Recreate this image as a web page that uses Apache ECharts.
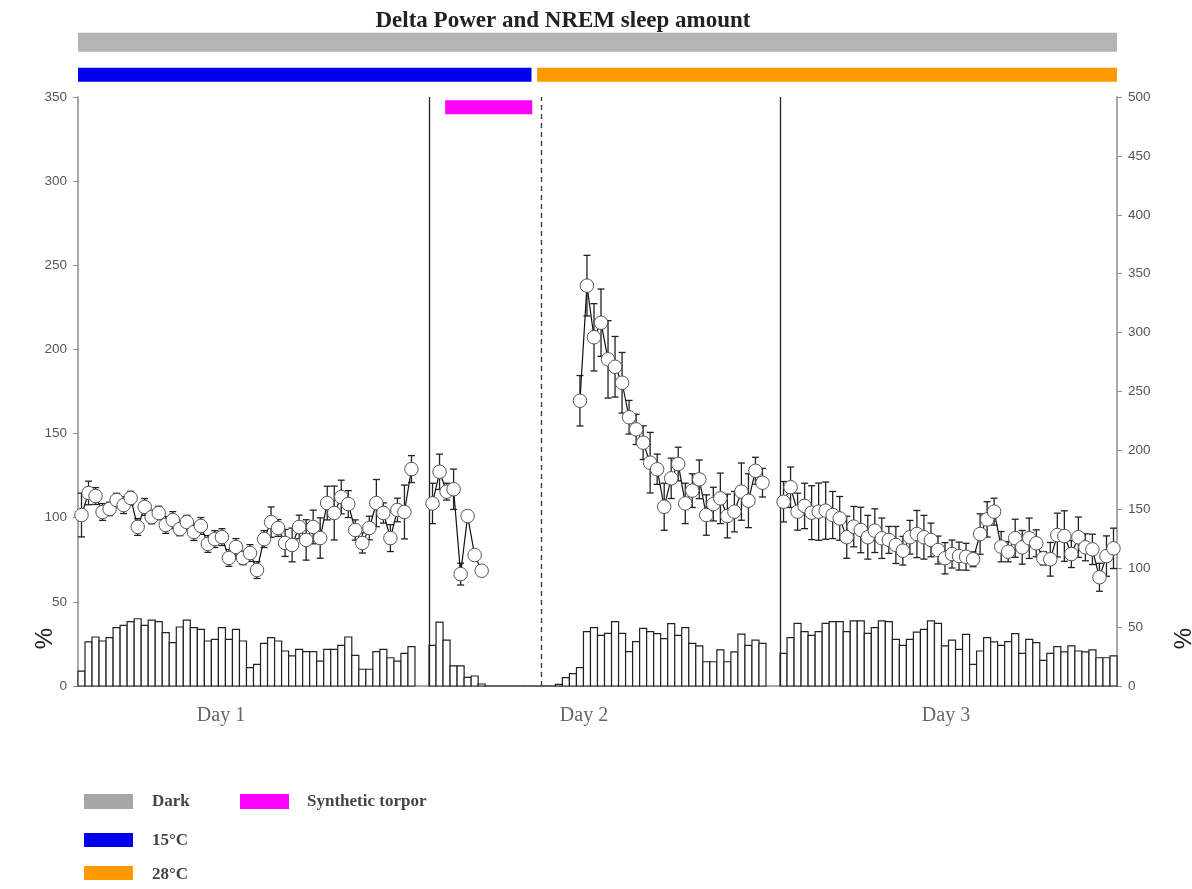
<!DOCTYPE html>
<html>
<head>
<meta charset="utf-8">
<title>Delta Power and NREM sleep amount</title>
<script src="https://cdn.jsdelivr.net/npm/echarts@6/dist/echarts.min.js"></script>
<style>
  html, body { margin: 0; padding: 0; background: #fff; }
  #chart { width: 1192px; height: 889px; }
</style>
</head>
<body>
<div id="chart"></div>
<script>
// Time axis: 30-min slots. Day 1 = slots 0-47, Day 2 = 50-97, Day 3 = 100-147.
const SLOT_COUNT = 148;
const day1Start = 0, day2Start = 50, recoveryStart = 71, day3Start = 100;

// NREM sleep amount (% of bin), right axis
const nremDay1 = [12.7, 37.4, 41.6, 38.2, 41, 49.5, 51.5, 54.6, 57.1, 51.5, 56, 54.6,
  45.3, 36.8, 50.1, 56, 49.5, 48.1, 38.2, 39.6, 49.5, 39.6, 48.1, 38.2,
  15.6, 18.4, 36.2, 41, 38.2, 29.7, 25.5, 31.1, 29.1, 29.1, 21.2, 31.1,
  31.1, 34.5, 41.6, 26, 14.2, 14.2, 29.1, 31.1, 24, 21.2, 27.7, 33.4];
const nremDay2 = [34.5, 54.3, 39, 17, 17, 7.4, 8.5, 1.7,
  0, 0, 0, 0, 0, 0, 0, 0, 0, 0,
  1.4, 7.1, 10.5, 15.6, 46.1, 49.5, 43, 44.7, 54.6, 44.7, 29.1, 37.6,
  49, 46.1, 44.4, 40.2, 52.9, 43, 49.5, 36.2, 34, 20.6, 20.6, 30.6,
  20.6, 28.9, 44.1, 34.5, 39, 36.2];
const nremDay3 = [27.7, 41, 53.2, 46.1, 43, 46.1, 53.2, 54.6, 54.6, 46.1, 55.2, 55.2,
  44.7, 49.5, 55.2, 54.6, 39.6, 34.5, 39.6, 45.8, 48.1, 55.2, 53.2, 34,
  39, 31.1, 43.9, 18.4, 29.7, 41, 37.4, 34.5, 37.6, 44.4, 27.7, 39.6,
  36.8, 21.8, 27.7, 33.4, 28.9, 34, 29.7, 28.9, 30.6, 24, 24, 25.5];

// Delta power (% of baseline), left axis, mean and SEM
const deltaDay1 = [101.6, 114.7, 112.9, 103.4, 105.2, 110.5, 107.5, 111.7, 94.5, 106.4, 100.4, 102.8,
  95.7, 98.6, 93.3, 97.4, 91.5, 95.1, 84.4, 87.3, 88.5, 76.1, 82.6, 76.1,
  79, 68.9, 87.3, 97.4, 93.9, 85, 83.8, 94.5, 86.8, 94.5, 87.9, 108.7,
  102.8, 112.3, 108.1, 92.7, 85, 93.9, 108.7, 102.8, 87.9, 104.6, 103.4, 128.9];
const deltaDay1Err = [13, 7, 5, 5, 4, 4, 5, 4, 5, 5, 4, 4,
  5, 5, 4, 4, 5, 5, 5, 5, 5, 5, 5, 4,
  5, 5, 5, 9, 5, 8, 10, 7, 12, 10, 12, 10,
  16, 10, 8, 6, 6, 7, 14, 6, 8, 7, 16, 8];
const deltaTorpor = [108.5, 127.3, 115.5, 116.9, 66.5, 101, 77.8, 68.5];
const deltaTorporErr = [12, 10.5, 5, 12, 6.5, 2, 2, 2];
const deltaRecovery = [169.5, 237.9, 207.2, 215.9, 194.1, 189.7, 180.2, 159.7, 152.5,
  144.6, 132.7, 128.8, 106.5, 123.4, 131.9, 108.5, 116.1, 122.8,
  101.6, 108.1, 111.5, 101, 103.6, 115.5, 110.1, 127.9, 120.8];
const deltaRecoveryErr = [15, 18, 20, 20, 23, 18, 18, 10, 9,
  10, 18, 9, 14, 12, 10, 12, 10, 11.5,
  12, 10, 15, 13, 12, 17, 16, 8, 8.5];
const deltaDay3 = [109.5, 118.1, 103.6, 107, 103, 103.6, 104.2, 101.6, 99.6, 88.4, 94.7, 92.7,
  88.4, 92.3, 87.8, 86.8, 83.8, 80.4, 88.4, 90.3, 88.4, 86.8, 80.8, 75.9,
  78.4, 77.2, 76.8, 75.3, 90.3, 99, 103.6, 82.8, 79.8, 87.8, 82.4, 87.8,
  84.8, 75.9, 75.3, 89.7, 89.1, 78.4, 88.4, 82.4, 81.2, 64.6, 77.2, 81.8];
const deltaDay3Err = [12, 12, 11, 13.5, 16, 17, 17, 14, 13, 12.5, 12, 13.5,
  13, 13, 12, 8, 11, 8.5, 10, 14, 13, 10, 8.3, 9.3,
  8.3, 8.3, 8, 4.4, 12, 10.5, 8, 9, 6, 11.3, 10, 12,
  8, 4, 10, 13, 15, 8, 12, 8, 9, 8.3, 12, 12];

// Condition bands above the plot (in slot units)
const bandNames = ['Dark', '15°C', '28°C', 'Synthetic torpor'];
const bandStart = [0, 0, 65.4, 52.3];
const bandEnd = [148, 64.6, 148, 64.7];
const bandRow = [0, 1, 1, 2];
const bandColors = { 'Dark': '#b4b4b4', '15°C': '#0000ee', '28°C': '#ff9900', 'Synthetic torpor': '#ff00ff' };

// Axis ticks
const leftTicks = { min: 0, max: 350, interval: 50 };
const rightTicks = { min: 0, max: 500, interval: 50 };
const dayLabels = ['Day 1', 'Day 2', 'Day 3'];
const boundaries = [50, 100];
const torporEnd = 66;

function toPoints(values, start) {
  return values.map((v, i) => [start + i + 0.5, v]);
}
function toErr(values, errs, start) {
  return values.map((v, i) => [start + i + 0.5, v, errs[i]]);
}
function toBars(values, start) {
  return values.map((v, i) => [start + i, v]);
}

const barData = [].concat(toBars(nremDay1, day1Start), toBars(nremDay2, day2Start), toBars(nremDay3, day3Start));
const errData = [].concat(
  toErr(deltaDay1, deltaDay1Err, day1Start),
  toErr(deltaTorpor, deltaTorporErr, day2Start),
  toErr(deltaRecovery, deltaRecoveryErr, recoveryStart),
  toErr(deltaDay3, deltaDay3Err, day3Start));
const bandData = bandNames.map((n, i) => [bandStart[i], bandEnd[i], bandRow[i], i]);

const serif = '"Liberation Serif", "DejaVu Serif", serif';
const sans = '"Liberation Sans", Arial, sans-serif';

function deltaLine(values, start, extra) {
  return Object.assign({
    type: 'line',
    xAxisIndex: 0, yAxisIndex: 0,
    data: toPoints(values, start),
    symbol: 'circle', symbolSize: 13.5,
    itemStyle: { color: '#fff', borderColor: '#555', borderWidth: 1 },
    lineStyle: { color: '#111', width: 1.2 },
    z: 5, silent: true, animation: false
  }, extra || {});
}

const chart = echarts.init(document.getElementById('chart'), null, { renderer: 'canvas' });
chart.setOption({
  animation: false,
  backgroundColor: '#fff',
  title: {
    text: 'Delta Power and NREM sleep amount',
    left: 558, top: 5, textAlign: 'center',
    textStyle: { fontFamily: serif, fontWeight: 'bold', fontSize: 23, color: '#222' }
  },
  grid: [
    { left: 78, right: 75, top: 97, bottom: 203 },
    { left: 78, right: 75, top: 26, height: 97.5 }
  ],
  xAxis: [
    { type: 'value', gridIndex: 0, min: 0, max: SLOT_COUNT,
      axisLine: { show: true, onZero: false, lineStyle: { color: '#8c8c8c', width: 1.5 } },
      axisTick: { show: false }, axisLabel: { show: false }, splitLine: { show: false } },
    { type: 'value', gridIndex: 1, min: 0, max: SLOT_COUNT, show: false }
  ],
  yAxis: [
    { type: 'value', gridIndex: 0, position: 'left',
      min: leftTicks.min, max: leftTicks.max, interval: leftTicks.interval,
      axisLine: { show: true, lineStyle: { color: '#8c8c8c', width: 1.5 } },
      axisTick: { show: true, length: 5, lineStyle: { color: '#8c8c8c' } },
      axisLabel: { color: '#555', fontSize: 13.5, fontFamily: sans, margin: 11 },
      splitLine: { show: false } },
    { type: 'value', gridIndex: 0, position: 'right',
      min: rightTicks.min, max: rightTicks.max, interval: rightTicks.interval,
      axisLine: { show: true, lineStyle: { color: '#8c8c8c', width: 1.5 } },
      axisTick: { show: true, length: 5, lineStyle: { color: '#8c8c8c' } },
      axisLabel: { color: '#555', fontSize: 13.5, fontFamily: sans, margin: 11 },
      splitLine: { show: false } },
    { type: 'category', gridIndex: 1, data: ['row0', 'row1', 'row2'], inverse: true, show: false }
  ],
  series: [
    // NREM amount bars
    {
      type: 'custom', xAxisIndex: 0, yAxisIndex: 1, data: barData, z: 2, silent: true,
      renderItem: function (params, api) {
        const p0 = api.coord([api.value(0), api.value(1)]);
        const p1 = api.coord([api.value(0) + 1, 0]);
        return {
          type: 'rect',
          shape: { x: p0[0], y: p0[1], width: p1[0] - p0[0], height: p1[1] - p0[1] },
          style: { fill: '#fff', stroke: '#222', lineWidth: 1.2 }
        };
      }
    },
    // SEM error bars
    {
      type: 'custom', xAxisIndex: 0, yAxisIndex: 0, data: errData, z: 3, silent: true,
      renderItem: function (params, api) {
        const x = api.value(0), y = api.value(1), e = api.value(2);
        const top = api.coord([x, y + e]);
        const bot = api.coord([x, y - e]);
        const cap = 3.5;
        const st = { stroke: '#222', lineWidth: 1.3 };
        return {
          type: 'group',
          children: [
            { type: 'line', shape: { x1: top[0], y1: top[1], x2: bot[0], y2: bot[1] }, style: st },
            { type: 'line', shape: { x1: top[0] - cap, y1: top[1], x2: top[0] + cap, y2: top[1] }, style: st },
            { type: 'line', shape: { x1: bot[0] - cap, y1: bot[1], x2: bot[0] + cap, y2: bot[1] }, style: st }
          ]
        };
      }
    },
    deltaLine(deltaDay1, day1Start, {
      markLine: {
        silent: true, symbol: 'none', label: { show: false },
        lineStyle: { color: '#222', width: 1.3, type: 'solid' },
        data: [
          { xAxis: boundaries[0] },
          { xAxis: boundaries[1] },
          { xAxis: torporEnd, lineStyle: { type: [5, 4], color: '#333', width: 1.3 } }
        ]
      }
    }),
    deltaLine(deltaTorpor, day2Start),
    deltaLine(deltaRecovery, recoveryStart),
    deltaLine(deltaDay3, day3Start),
    // Condition bands
    {
      type: 'custom', xAxisIndex: 1, yAxisIndex: 2, data: bandData, silent: true,
      renderItem: function (params, api) {
        const s = api.coord([api.value(0), api.value(2)]);
        const e = api.coord([api.value(1), api.value(2)]);
        const row = api.value(2);
        const h = row === 0 ? 19 : 14;
        return {
          type: 'rect',
          shape: { x: s[0], y: s[1] - h / 2, width: e[0] - s[0], height: h },
          style: { fill: bandColors[bandNames[api.value(3)]] }
        };
      }
    }
  ],
  graphic: [
    { type: 'text', left: 33, top: 628, rotation: Math.PI / 2,
      style: { text: '%', font: '24px ' + sans, fill: '#222' } },
    { type: 'text', left: 1172, top: 628, rotation: Math.PI / 2,
      style: { text: '%', font: '24px ' + sans, fill: '#222' } },
    { type: 'text', x: 221, y: 716, style: { text: dayLabels[0], font: '20px ' + serif, fill: '#666', align: 'center', verticalAlign: 'middle' } },
    { type: 'text', x: 584, y: 716, style: { text: dayLabels[1], font: '20px ' + serif, fill: '#666', align: 'center', verticalAlign: 'middle' } },
    { type: 'text', x: 946, y: 716, style: { text: dayLabels[2], font: '20px ' + serif, fill: '#666', align: 'center', verticalAlign: 'middle' } },
    // Legend
    { type: 'rect', shape: { x: 84, y: 794, width: 49, height: 15 }, style: { fill: '#a6a6a6' } },
    { type: 'text', x: 152, y: 802, style: { text: bandNames[0], font: 'bold 17px ' + serif, fill: '#444', verticalAlign: 'middle' } },
    { type: 'rect', shape: { x: 84, y: 833, width: 49, height: 14 }, style: { fill: '#0000ee' } },
    { type: 'text', x: 152, y: 841, style: { text: bandNames[1], font: 'bold 17px ' + serif, fill: '#444', verticalAlign: 'middle' } },
    { type: 'rect', shape: { x: 84, y: 866, width: 49, height: 14 }, style: { fill: '#ff9900' } },
    { type: 'text', x: 152, y: 875, style: { text: bandNames[2], font: 'bold 17px ' + serif, fill: '#444', verticalAlign: 'middle' } },
    { type: 'rect', shape: { x: 240, y: 794, width: 49, height: 15 }, style: { fill: '#ff00ff' } },
    { type: 'text', x: 307, y: 802, style: { text: bandNames[3], font: 'bold 17px ' + serif, fill: '#444', verticalAlign: 'middle' } }
  ]
});
</script>
</body>
</html>
